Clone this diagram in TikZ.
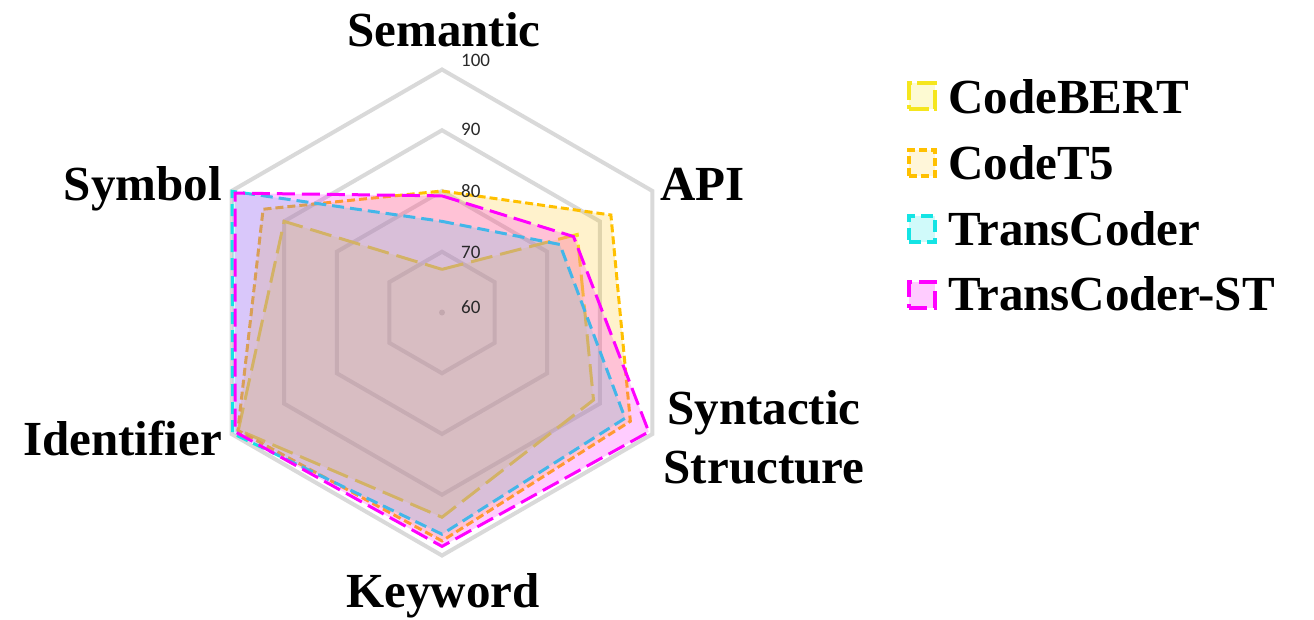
\documentclass[tikz,border=0pt]{standalone}
\usepackage{fontspec}
\setmainfont{Liberation Serif}
\newfontfamily\tickfont{Carlito}

\definecolor{cbY}{RGB}{245,230,30}
\definecolor{ctO}{RGB}{255,192,0}
\definecolor{tcC}{RGB}{20,228,228}
\definecolor{tsM}{RGB}{255,0,255}
\definecolor{gridG}{RGB}{217,217,217}
\definecolor{tickK}{RGB}{40,40,40}

% polygon through the six axes (Semantic, API, Syntactic, Keyword, Identifier, Symbol)
% values run from 60 (centre) to 100 (outer ring, radius 243)
\newcommand\radarshape[6]{(90:{(#1-60)*6.075}) -- (30:{(#2-60)*6.075}) -- (-30:{(#3-60)*6.075}) -- (-90:{(#4-60)*6.075}) -- (210:{(#5-60)*6.075}) -- (150:{(#6-60)*6.075}) -- cycle}

\tikzset{
  gridring/.style={draw=gridG, line width=4pt},
  axislabel/.style={font=\fontsize{49}{58}\selectfont\bfseries, inner sep=0pt, anchor=base},
  legendtext/.style={font=\fontsize{49}{58}\selectfont\bfseries, inner sep=0pt, anchor=base west},
  ticklabel/.style={font=\tickfont\fontsize{19}{20}\selectfont, text=tickK, inner sep=0pt, anchor=west},
  serCodeBERT/.style={draw=cbY, fill=cbY, fill opacity=0.2, draw opacity=1, line width=3pt, dash pattern=on 22pt off 8pt},
  serCodeTF/.style={draw=ctO, fill=ctO, fill opacity=0.2, draw opacity=1, line width=3pt, dash pattern=on 8pt off 4pt},
  serTransCoder/.style={draw=tcC, fill=tcC, fill opacity=0.2, draw opacity=1, line width=3pt, dash pattern=on 12pt off 6pt},
  serTransST/.style={draw=tsM, fill=tsM, fill opacity=0.2, draw opacity=1, line width=3pt, dash pattern=on 18pt off 7pt},
  legbox/.style={minimum width=26pt, minimum height=26pt, inner sep=0pt, line width=4pt},
}

\begin{document}
\begin{tikzpicture}[x=1pt,y=1pt]
\useasboundingbox (-442,-306.5) rectangle (872,312.5);

% grid rings for 70, 80, 90, 100
\foreach \v in {70,80,90,100}
  \draw[gridring] \radarshape{\v}{\v}{\v}{\v}{\v}{\v};
\fill[gridG!80!black!60] (0,0) circle (3);

% data series
\path[serCodeBERT]   \radarshape{67.1}{85.7}{88.8}{93.7}{98.7}{90.0};
\path[serCodeTF]     \radarshape{80.0}{92.1}{95.8}{97.6}{98.8}{94.0};
\path[serTransCoder] \radarshape{75.0}{82.4}{94.8}{96.5}{99.8}{99.9};
\path[serTransST]    \radarshape{79.2}{85.0}{99.3}{98.5}{99.3}{99.3};

% scale labels
\node[ticklabel] (t100) at (19,252.5) {100};
\node[ticklabel] (t90)  at (19,182.9) {90};
\node[ticklabel] (t80)  at (19,121.8) {80};
\node[ticklabel] (t70)  at (19,60.5)  {70};
\node[ticklabel] (t60)  at (19,5.8)   {60};

% axis labels
\node[axislabel] (lSem) at (2,266) {Semantic};
\node[axislabel, anchor=base west] (lApi) at (218,112.5) {API};
\node[axislabel, anchor=base east] (lSym) at (-220,112.5) {Symbol};
\node[axislabel] (lSyn) at (322,-112) {Syntactic};
\node[axislabel] (lStr) at (322,-170.5) {Structure};
\node[axislabel, anchor=base east] (lIde) at (-220,-142.5) {Identifier};
\node[axislabel] (lKey) at (1,-294.5) {Keyword};

% legend
\node[legbox, draw=cbY, fill=cbY!20, dash pattern=on 20pt off 5pt] (k1) at (480,216) {};
\node[legendtext] (n1) at (506,199.2) {CodeBERT};
\node[legbox, draw=ctO, fill=ctO!15, dash pattern=on 8pt off 4pt] (k2) at (480,149.5) {};
\node[legendtext] (n2) at (506,133.5) {CodeT5};
\node[legbox, draw=tcC, fill=tcC!20, dash pattern=on 12pt off 6pt] (k3) at (480,83.5) {};
\node[legendtext] (n3) at (506,67.5) {TransCoder};
\node[legbox, draw=tsM, fill=tsM!20, dash pattern=on 18pt off 7pt] (k4) at (480,18) {};
\node[legendtext] (n4) at (506,2.5) {TransCoder-ST};
\end{tikzpicture}
\end{document}
